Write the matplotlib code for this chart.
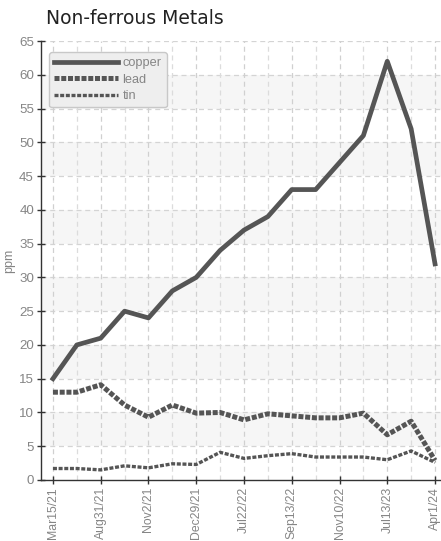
import matplotlib
matplotlib.use("Agg")
import matplotlib.pyplot as plt

dates = ["Mar15/21", "", "Aug31/21", "", "Nov2/21", "", "Dec29/21", "", "Jul22/22", "",
         "Sep13/22", "", "Nov10/22", "", "Jul13/23", "", "Apr1/24"]
copper = [15, 20, 21, 25, 24, 28, 30, 34, 37, 39, 43, 43, 47, 51, 62, 52, 32]
lead = [13, 13, 14.1, 11.1, 9.3, 11.1, 9.9, 10, 8.9, 9.8, 9.5, 9.2, 9.2, 9.9, 6.7, 8.7, 2.9]
tin = [1.7, 1.7, 1.5, 2.1, 1.8, 2.4, 2.3, 4.1, 3.2, 3.6, 3.9, 3.4, 3.4, 3.4, 3.0, 4.3, 2.6]
y_ticks = list(range(0, 66, 5))

narrow = ["Liberation Sans", "DejaVu Sans"]
tick_color = "#858585"
line_color = "#555555"

fig = plt.figure(figsize=(4.41, 5.41), dpi=100)
ax = fig.add_axes([41/441, 61/541, 400/441, 439/541])

x = list(range(len(copper)))
ax.set_xlim(-0.5, len(copper) - 1 + 0.25)
ax.set_ylim(0, 65)

# alternating bands
for i in range(len(y_ticks) - 1):
    if i % 2 == 1:
        ax.axhspan(y_ticks[i], y_ticks[i + 1], color="#f6f6f6", zorder=0, lw=0)

# grid
for yv in y_ticks[1:]:
    ax.axhline(yv, color="#d4d4d4", lw=0.9, ls=(0, (4, 3)), zorder=1)
for xv in x:
    ax.axvline(xv, color="#dcdcdc" if xv % 2 else "#d0d0d0", lw=0.9, ls=(0, (4, 3)), zorder=1)

l1, = ax.plot(x, copper, color=line_color, lw=3.4, solid_joinstyle="round", zorder=4, label="copper")
l2, = ax.plot(x, lead, color=line_color, lw=3.6, ls=(0, (1, 0.35)), dash_capstyle="butt", zorder=3, label="lead")
l3, = ax.plot(x, tin, color=line_color, lw=2.4, ls=(0, (1.2, 0.5)), dash_capstyle="butt", zorder=3, label="tin")

ax.set_yticks(y_ticks)
ax.set_xticks(x[::2])
ax.set_xticklabels([d for d in dates[::2]], rotation=90, family=narrow, fontsize=8.8, color=tick_color)
for lab in ax.get_yticklabels():
    lab.set_family(narrow)
    lab.set_fontsize(9.6)
    lab.set_color(tick_color)
ax.tick_params(axis="both", direction="inout", length=6, width=1, color="#333333")
ax.tick_params(axis="y", pad=2)
ax.tick_params(axis="x", pad=2)

for s in ["top", "right"]:
    ax.spines[s].set_visible(False)
for s in ["left", "bottom"]:
    ax.spines[s].set_color("#333333")
    ax.spines[s].set_linewidth(1)

ax.set_ylabel("ppm", family=narrow, fontsize=9, color=tick_color, labelpad=3)

leg = ax.legend(handles=[l1, l2, l3], loc="upper left", bbox_to_anchor=(0.02, 0.975),
                frameon=True, fancybox=True, handlelength=5.0, handletextpad=0.35,
                labelspacing=0.35, borderpad=0.4, borderaxespad=0.0,
                prop={"family": narrow, "size": 9.2}, facecolor="#eeeeee",
                edgecolor="#c8c8c8", framealpha=1)
for t in leg.get_texts():
    t.set_color(tick_color)

fig.text(46/441, 1 - 19/541, "Non-ferrous Metals", fontsize=13.5, family="DejaVu Sans",
         color="#222222", va="center", ha="left")

fig.savefig("out.png", dpi=100)
